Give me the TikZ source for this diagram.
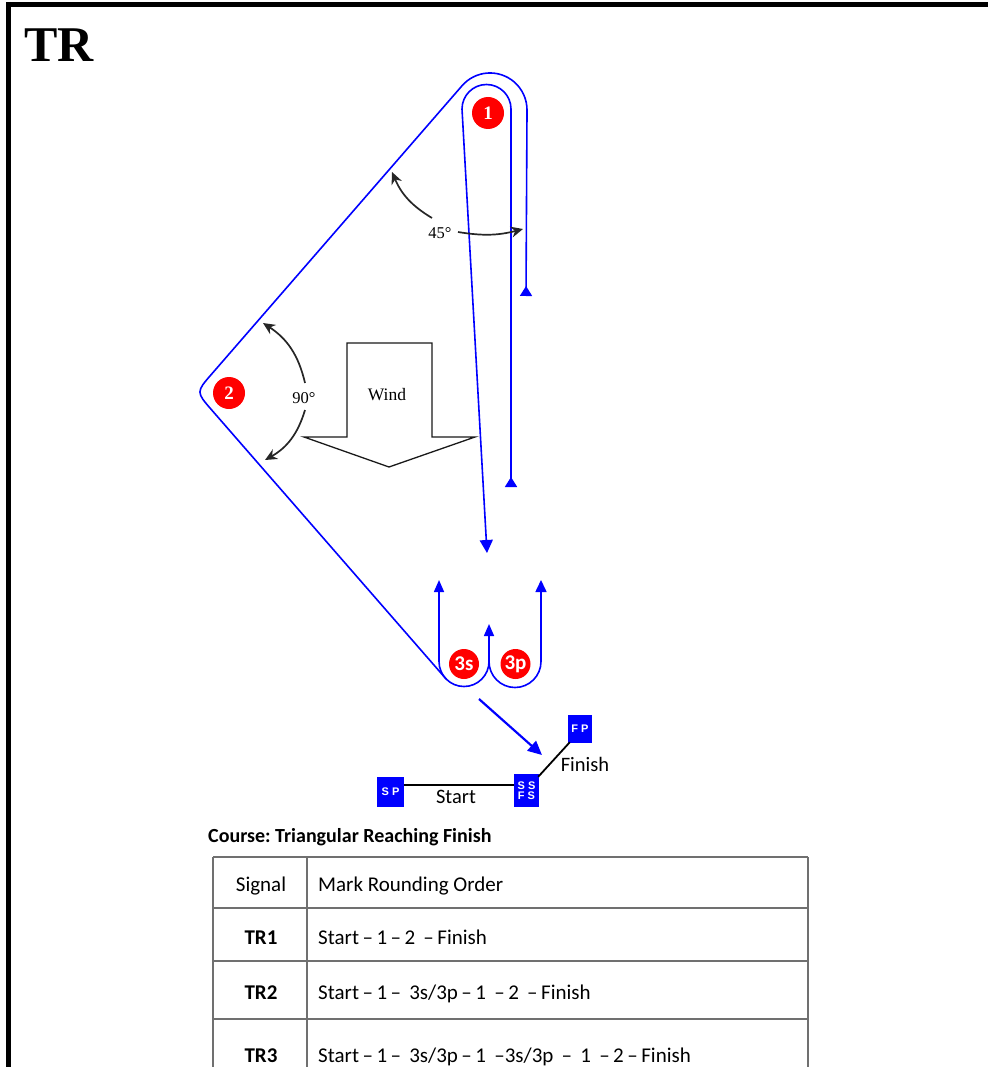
\documentclass[tikz,border=0pt]{standalone}
\usepackage{fontspec}
\setmainfont{Liberation Serif}
\newfontfamily\calfont{Carlito}
\newfontfamily\sqfont{Liberation Sans}
\usetikzlibrary{arrows.meta}
\definecolor{tblgray}{HTML}{707070}
\frenchspacing
\begin{document}
\begin{tikzpicture}[x=1pt,y=1pt,
  course/.style={draw=blue, line width=1.6pt},
  fwd/.style={-{Triangle[width=11pt,length=12pt]}},
  revtip/.style={-{Triangle[reversed,width=12pt,length=10pt]}},
  angarr/.style={draw=black!85, line width=1.7pt, -{Stealth[width=11pt,length=12pt]}},
  buoy/.style={circle, fill=red, text=white, minimum size=32pt, inner sep=0pt, font=\bfseries\fontsize{19}{19}\selectfont},
  buoythree/.style={circle, fill=red, text=white, minimum size=30pt, inner sep=0pt, font=\calfont\bfseries\fontsize{21}{21}\selectfont},
  sq/.style={rectangle, fill=blue, text=white, inner sep=0pt, font=\sqfont\bfseries\fontsize{11}{11}\selectfont},
  lbl/.style={inner sep=0pt, font=\calfont\fontsize{20.5}{20.5}\selectfont},
  ang/.style={inner sep=0pt, font=\fontsize{16.5}{16.5}\selectfont},
  cell/.style={inner sep=0pt, anchor=base, font=\calfont\fontsize{21}{21}\selectfont},
  celll/.style={inner sep=0pt, anchor=base west, font=\calfont\fontsize{21}{21}\selectfont},
  tbl/.style={draw=tblgray, line width=1.4pt}
]
\useasboundingbox (0,0) rectangle (988,-1067);
% frame
\draw[line width=5pt] (6,-4.5) -- (988,-4.5);
\draw[line width=5pt] (8.5,-2) -- (8.5,-1067);
\node[anchor=base west, inner sep=0pt, font=\bfseries\fontsize{50}{50}\selectfont] (title) at (24,-62) {TR};

% wind arrow
\draw[black!90, line width=1.3pt] (347,-437) -- (347,-343) -- (432,-343) -- (432,-437) -- (475,-437) -- (389,-467) -- (304,-437) -- cycle;
\node[inner sep=0pt, font=\fontsize{17.5}{17.5}\selectfont] (wind) at (387,-395) {Wind};

% outer course
\draw[course, revtip] (446.3,-679.2) -- (211.8,-410.1) .. controls (196,-392) .. (211.8,-373.9) -- (462,-85.8) arc[start angle=139.2, end angle=0, radius=37] -- (526,-296);
% inner course around mark 1
\draw[course, {Triangle[reversed,width=12pt,length=10pt]}-{Triangle[width=13pt,length=13pt]}] (511,-487) -- (511,-109) arc[start angle=0, end angle=180, radius=24.5] -- (487,-553);
% gate U-turns
\draw[course, {Triangle[width=10pt,length=12pt]}-{Triangle[width=10pt,length=12pt]}] (439,-580) -- (439,-661.5) arc[start angle=180, end angle=360, radius=25] -- (489,-624);
\draw[course, fwd] (489,-661.5) arc[start angle=180, end angle=360, radius=26] -- (541,-580);
% arrow to finish
\draw[blue, line width=2.2pt, -{Triangle[width=13pt,length=14pt]}] (479,-699) -- (542,-755);

% marks
\node[buoy] (m1) at (488,-113) {1};
\node[buoy] (m2) at (229,-393) {2};
\node[buoythree] (m3s) at (464,-664) {3s};
\node[buoythree] (m3p) at (515.5,-664) {3p};

% angles
\draw[angarr] (432,-218) to[bend left=18] (392,-172);
\draw[angarr] (458,-232) to[bend right=12] (523,-229);
\node[ang] (a45) at (440,-233) {45°};
\draw[angarr] (305,-383) to[bend right=22] (263,-323);
\draw[angarr] (305,-410) to[bend left=22] (265,-460);
\node[ang] (a90) at (304,-398) {90°};

% start / finish
\node[sq, minimum width=27pt, minimum height=30pt] (sp) at (390.5,-792) {S P};
\node[sq, minimum width=25pt, minimum height=33pt, align=center] (ssfs) at (526.5,-790.5) {S S\\[-1pt]F S};
\node[sq, minimum width=24pt, minimum height=28pt] (fp) at (580,-729) {F P};
\draw[black, line width=1.8pt] ([yshift=7pt]sp.east) -- ([yshift=7pt]sp.east -| ssfs.west);
\draw[black, line width=1.8pt] ([xshift=-1pt,yshift=-3pt]ssfs.north east) -- ([xshift=2pt,yshift=1pt]fp.south west);
\node[lbl] (start) at (456,-797) {Start};
\node[lbl] (finish) at (585,-764) {Finish};

% table
\node[anchor=base west, inner sep=0pt, font=\calfont\bfseries\fontsize{20}{20}\selectfont] (course) at (208,-842) {Course: Triangular Reaching Finish};
\draw[tbl] (213,-857) -- (808,-857);
\draw[tbl] (213,-908) -- (808,-908);
\draw[tbl] (213,-961) -- (808,-961);
\draw[tbl] (213,-1019) -- (808,-1019);
\draw[tbl] (213,-857) -- (213,-1067);
\draw[tbl] (307,-857) -- (307,-1067);
\draw[tbl] (808,-857) -- (808,-1067);
\node[cell] (h1) at (261,-891) {Signal};
\node[celll] (h2) at (318,-891) {Mark Rounding Order};
\node[cell, font=\calfont\bfseries\fontsize{21}{21}\selectfont] (r1) at (261,-944) {TR1};
\node[celll] (r1b) at (318,-944) {Start\,–\,1\,–\,2 \,–\,Finish};
\node[cell, font=\calfont\bfseries\fontsize{21}{21}\selectfont] (r2) at (261,-999) {TR2};
\node[celll] (r2b) at (318,-999) {Start\,–\,1\,– \,3s/3p\,–\,1 \,–\,2 \,–\,Finish};
\node[cell, font=\calfont\bfseries\fontsize{21}{21}\selectfont] (r3) at (261,-1062) {TR3};
\node[celll] (r3b) at (318,-1062) {Start\,–\,1\,– \,3s/3p\,–\,1 \,–3s/3p \,– \,1 \,–\,2\,–\,Finish};
\end{tikzpicture}
\end{document}
